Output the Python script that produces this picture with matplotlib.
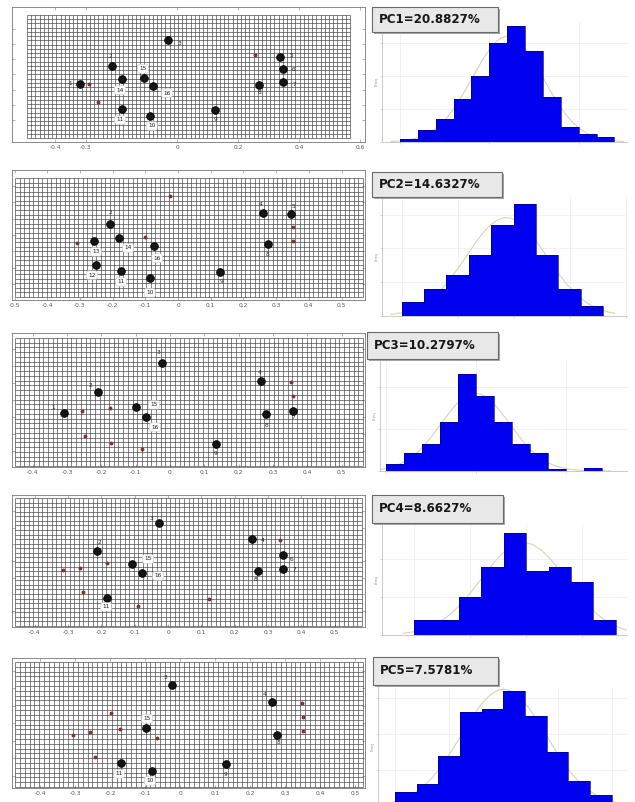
import matplotlib
matplotlib.use("Agg")
import matplotlib.pyplot as plt
import numpy as np
from matplotlib.patches import Rectangle

W, H = 635, 802

#### Data ####

pc_labels = ["PC1=20.8827%", "PC2=14.6327%", "PC3=10.2797%",
             "PC4=8.6627%", "PC5=7.5781%"]

# histogram counts (bins left to right)
counts_pc1 = [2, 7, 14, 26, 40, 60, 70, 55, 27, 9, 5, 3]
counts_pc2 = [4, 8, 12, 18, 27, 33, 18, 8, 3]
counts_pc3 = [4, 11, 16, 29, 58, 45, 29, 16, 11, 1, 0, 2]
counts_pc4 = [4, 4, 10, 18, 27, 17, 18, 14, 4]
counts_pc5 = [4, 6, 14, 26, 27, 32, 25, 15, 7, 3]

# landmark positions for each PC shape (id: (x, y))
landmarks_pc1 = {"1": (-0.318, -0.031), "2": (-0.213, 0.028), "3": (-0.03, 0.113),
                 "5": (0.338, 0.057), "6": (0.348, 0.018), "7": (0.348, -0.025),
                 "8": (0.269, -0.034), "9": (0.125, -0.116), "10": (-0.089, -0.136),
                 "11": (-0.18, -0.113), "14": (-0.18, -0.015), "15": (-0.108, -0.011),
                 "16": (-0.079, -0.038)}
landmarks_pc2 = {"2": (-0.208, 0.034), "4": (0.26, 0.067), "5": (0.346, 0.064),
                 "8": (0.275, -0.028), "9": (0.128, -0.113), "10": (-0.086, -0.131),
                 "11": (-0.174, -0.11), "12": (-0.251, -0.092), "13": (-0.257, -0.018),
                 "14": (-0.18, -0.009), "16": (-0.073, -0.034)}
landmarks_pc3 = {"1": (-0.309, -0.038), "2": (-0.21, 0.023), "3": (-0.023, 0.108),
                 "4": (0.265, 0.055), "7": (0.359, -0.032), "8": (0.28, -0.041),
                 "9": (0.134, -0.128), "15": (-0.099, -0.02), "16": (-0.07, -0.05)}
landmarks_pc4 = {"2": (-0.213, 0.03), "3": (-0.027, 0.114), "4": (0.252, 0.066),
                 "6": (0.345, 0.018), "7": (0.345, -0.024), "8": (0.27, -0.03),
                 "11": (-0.183, -0.111), "15": (-0.108, -0.009), "16": (-0.078, -0.036)}
landmarks_pc5 = {"3": (-0.023, 0.109), "4": (0.263, 0.06), "8": (0.277, -0.034),
                 "9": (0.131, -0.117), "10": (-0.08, -0.137), "11": (-0.169, -0.114),
                 "15": (-0.097, -0.014)}

# small shape-change markers
small_x_pc1 = [-0.29, -0.26, 0.256]
small_y_pc1 = [-0.03, -0.09, 0.064]
small_x_pc2 = [-0.31, -0.024, -0.1, 0.352, 0.352]
small_y_pc2 = [-0.024, 0.119, -0.006, 0.024, -0.018]
small_x_pc3 = [-0.257, -0.175, -0.248, -0.172, -0.082, 0.353, 0.359]
small_y_pc3 = [-0.032, -0.023, -0.105, -0.125, -0.143, 0.052, 0.012]
small_x_pc4 = [-0.315, -0.264, -0.183, -0.255, -0.09, 0.123, 0.336]
small_y_pc4 = [-0.027, -0.021, -0.006, -0.093, -0.135, -0.114, 0.063]
small_x_pc5 = [0.349, 0.351, 0.351, -0.257, -0.171, -0.066, -0.243, -0.197, -0.306]
small_y_pc5 = [0.057, 0.017, -0.023, -0.026, -0.017, -0.043, -0.097, 0.029, -0.034]

xticks_pc1 = [-0.4, -0.3, 0, 0.2, 0.4, 0.6]
xticks_pc2 = [-0.5, -0.4, -0.3, -0.2, -0.1, 0, 0.1, 0.2, 0.3, 0.4, 0.5]
xticks_rest = [-0.4, -0.3, -0.2, -0.1, 0, 0.1, 0.2, 0.3, 0.4, 0.5]

#### Layout (pixels) ####

grid_frames = [(12, 7, 365, 142), (12, 170, 365, 300), (12, 333, 365, 467),
               (12, 495, 365, 627), (12, 658, 365, 788)]
grid_areas = [(27, 15, 350, 138), (15, 178, 363, 297), (15, 338, 363, 466),
              (15, 498, 362, 626), (15, 662, 363, 787)]
zero_px = [177, 178, 170, 168, 180]
px_per_unit = [305, 327, 343, 333, 350]

hist_frames = [(382, 22, 627, 142), (382, 198, 627, 316), (380, 360, 627, 471),
               (382, 525, 627, 635), (378, 687, 627, 806)]
hist_xlim = [(-1.0, 12.7), (-0.88, 10.06), (-0.33, 13.4), (-1.44, 9.5), (-0.78, 10.7)]
hist_ytop = [72.6, 34.9, 66.2, 29, 33]

label_boxes = [(372, 7, 498, 32), (372, 172, 502, 197), (367, 332, 498, 359),
               (372, 495, 503, 523), (373, 657, 498, 685)]

# label offsets in pixels (dx, dy)
offs_pc1 = {"3": (12, -3), "2": (-2, 9), "1": (-10, 0), "14": (-2, -11), "15": (-1, 9),
            "16": (14, -7), "11": (-2, -11), "10": (2, -10), "9": (0, -10), "8": (0, -8),
            "5": (11, 2), "6": (10, 0), "7": (11, -2)}
offs_pc2 = {"2": (0, 11), "13": (2, -11), "12": (-4, -10), "14": (9, -10), "16": (3, -12),
            "11": (0, -11), "10": (0, -15), "9": (2, -10), "4": (-2, 9), "5": (2, 8),
            "8": (0, -10)}
offs_pc3 = {"3": (-4, 10), "2": (-8, 7), "1": (-11, 6), "15": (18, 2), "16": (9, -10),
            "9": (0, -10), "4": (-1, 9), "8": (0, -11), "7": (0, -7)}
offs_pc4 = {"3": (-8, 5), "2": (2, 9), "15": (16, 5), "16": (16, -3), "11": (-1, -9),
            "4": (11, -1), "6": (9, -4), "7": (11, -1), "8": (-2, -9)}
offs_pc5 = {"3": (-7, 7), "15": (1, 9), "11": (-2, -11), "10": (-2, -10), "9": (0, -11),
            "4": (-7, 7), "8": (2, -8)}

all_counts = [counts_pc1, counts_pc2, counts_pc3, counts_pc4, counts_pc5]
all_lms = [landmarks_pc1, landmarks_pc2, landmarks_pc3, landmarks_pc4, landmarks_pc5]
all_offs = [offs_pc1, offs_pc2, offs_pc3, offs_pc4, offs_pc5]
all_sx = [small_x_pc1, small_x_pc2, small_x_pc3, small_x_pc4, small_x_pc5]
all_sy = [small_y_pc1, small_y_pc2, small_y_pc3, small_y_pc4, small_y_pc5]
all_xticks = [xticks_pc1, xticks_pc2, xticks_rest, xticks_rest, xticks_rest]


def px_rect(l, t, r, b):
    return [l / W, 1 - b / H, (r - l) / W, (b - t) / H]


fig = plt.figure(figsize=(W / 100, H / 100), dpi=100)
fig.patch.set_facecolor("white")

for i in range(5):
    # deformation grid panel
    l, t, r, b = grid_frames[i]
    x0, ppu = zero_px[i], px_per_unit[i]
    cy = (t + b) / 2
    ax = fig.add_axes(px_rect(l, t, r, b))
    ax.set_xlim((l - x0) / ppu, (r - x0) / ppu)
    ax.set_ylim((cy - b) / ppu, (cy - t) / ppu)

    gl, gt, gr, gb = grid_areas[i]
    xa, xb = (gl - x0) / ppu, (gr - x0) / ppu
    ya, yb = (cy - gb) / ppu, (cy - gt) / ppu
    cell = 0.0138
    xs = np.linspace(xa, xb, int(round((xb - xa) / cell)) + 1)
    ys = np.linspace(ya, yb, int(round((yb - ya) / cell)) + 1)
    ax.vlines(xs, ya, yb, color="#3c3c3c", lw=0.45)
    ax.hlines(ys, xa, xb, color="#3c3c3c", lw=0.45)

    ax.plot(all_sx[i], all_sy[i], "o", ms=1.8, color="#7a3535", zorder=3)

    lms = all_lms[i]
    for key, (lx, ly) in lms.items():
        ax.plot(lx, ly, "o", ms=5.5, mfc="#151515", mec="black", mew=0.6, zorder=4)
        dx, dy = all_offs[i][key]
        if len(key) > 1:
            bb = dict(boxstyle="round,pad=0.3", fc="white", ec="#c8c8c8", lw=0.4)
        else:
            bb = None
        ax.annotate(key, (lx, ly), xytext=(dx, dy), textcoords="offset pixels",
                    ha="center", va="center", fontsize=4.2, color="#222",
                    bbox=bb, zorder=5)

    ax.set_xticks(all_xticks[i])
    ax.set_xticklabels([f"{v:g}" for v in all_xticks[i]])
    ax.set_yticks(np.arange(-0.15, 0.16, 0.05))
    ax.set_yticklabels([])
    ax.tick_params(direction="in", length=2, width=0.4, labelsize=4.2,
                   labelcolor="#555", colors="#777", top=True, right=True, pad=2)
    for s in ax.spines.values():
        s.set_color("#777")
        s.set_linewidth(0.6)

    # histogram panel
    counts = np.array(all_counts[i], dtype=float)
    edges = np.arange(len(counts) + 1)
    hax = fig.add_axes(px_rect(*hist_frames[i]))
    hax.stairs(counts, edges, fill=True, color="#0000f0", zorder=2)
    hax.stairs(counts, edges, color="#000080", lw=0.5, baseline=0, zorder=3)
    centers = edges[:-1] + 0.5
    mu = np.sum(centers * counts) / counts.sum()
    sd = np.sqrt(np.sum(counts * (centers - mu) ** 2) / counts.sum())
    xx = np.linspace(edges[0] - 0.5, edges[-1] + 0.5, 200)
    yy = counts.sum() / (sd * np.sqrt(2 * np.pi)) * np.exp(-0.5 * ((xx - mu) / sd) ** 2)
    hax.plot(xx, yy, color="#d8d4b4", lw=0.8, zorder=1)
    hax.set_xlim(*hist_xlim[i])
    hax.set_ylim(0, hist_ytop[i])
    hax.grid(True, color="#ececec", lw=0.5)
    hax.set_axisbelow(True)
    hax.tick_params(length=1.5, width=0.4, colors="#bbb", labelleft=False,
                    labelbottom=False)
    hax.set_ylabel("Freq", fontsize=3, color="#999", labelpad=1)
    for s in ["top", "right"]:
        hax.spines[s].set_visible(False)
    for s in ["left", "bottom"]:
        hax.spines[s].set_color("#b5b5b5")
        hax.spines[s].set_linewidth(0.5)

    # PC label box
    bl, bt, br, bbm = label_boxes[i]
    fig.patches.append(Rectangle((bl / W + 2 / W, 1 - bbm / H - 2 / H), (br - bl) / W,
                                 (bbm - bt) / H, transform=fig.transFigure,
                                 fc="#a8a8a8", ec="none", zorder=10))
    fig.patches.append(Rectangle((bl / W, 1 - bbm / H), (br - bl) / W, (bbm - bt) / H,
                                 transform=fig.transFigure, fc="#e8e8e8", ec="#6a6a6a",
                                 lw=0.8, zorder=11))
    fig.text((bl + 7) / W, 1 - (bt + bbm) / 2 / H, pc_labels[i], fontsize=8.6,
             fontweight="bold", color="#161616", ha="left", va="center", zorder=12)

fig.savefig("out.png", dpi=100, facecolor="white")
